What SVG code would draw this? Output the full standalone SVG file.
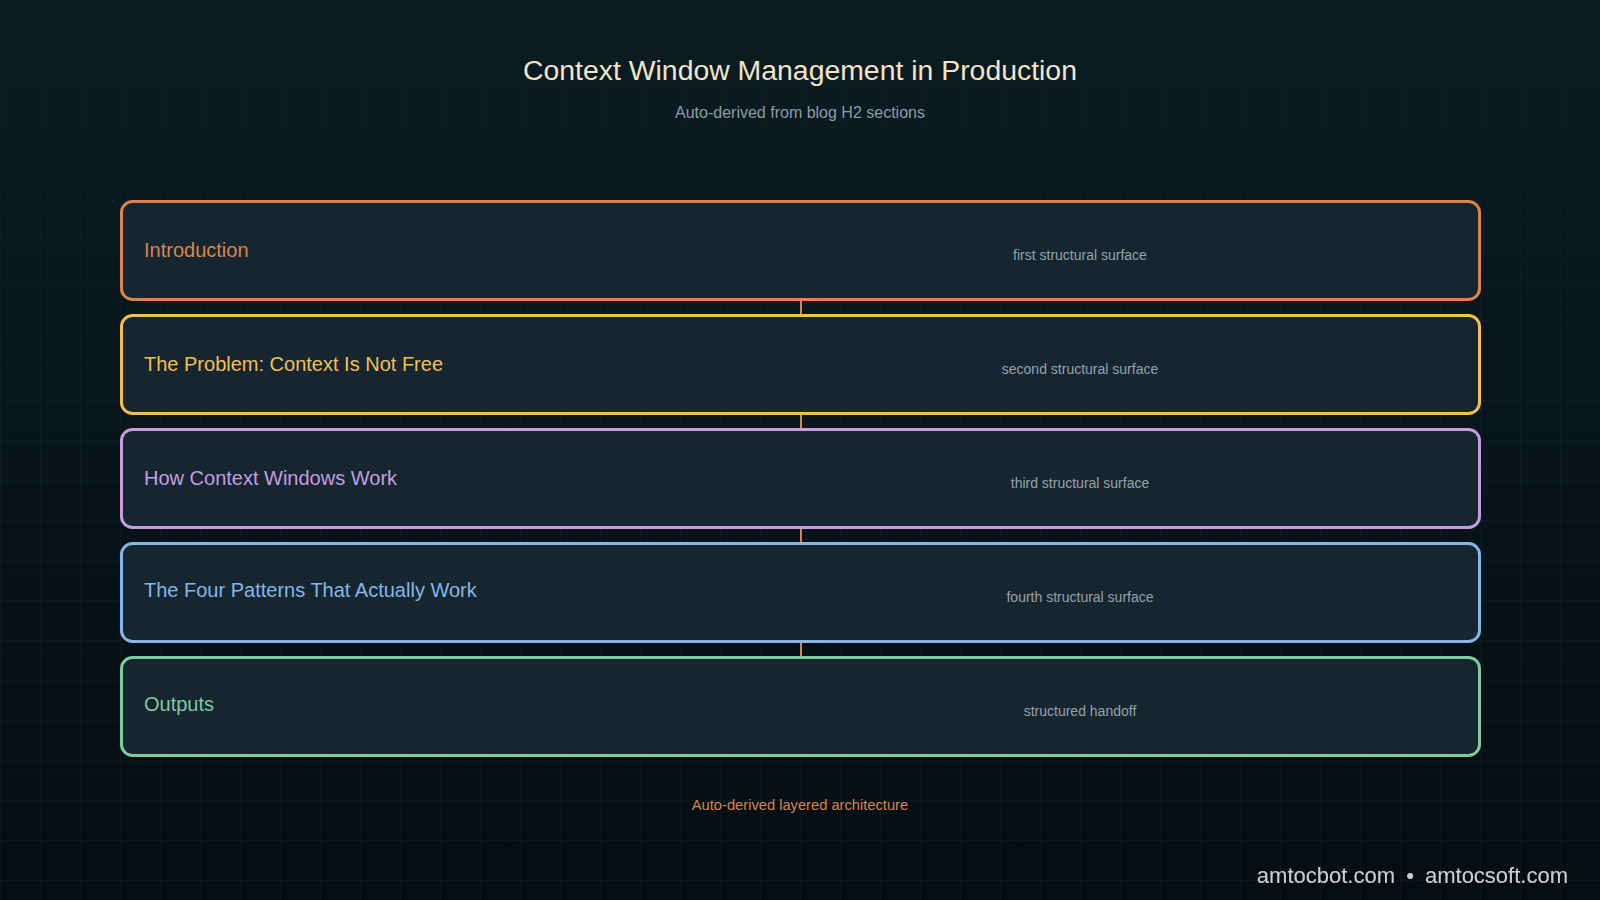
<svg xmlns="http://www.w3.org/2000/svg" width="1600" height="900" viewBox="0 0 1600 900">
<defs>
<linearGradient id="bg" x1="0" y1="0" x2="0" y2="1">
<stop offset="0" stop-color="#0b1c23"/>
<stop offset="1" stop-color="#050d12"/>
</linearGradient>
<pattern id="grid" width="40" height="40" patternUnits="userSpaceOnUse">
<path d="M40 0H0V40" fill="none" stroke="#13252e" stroke-width="1" stroke-opacity="0.7"/>
</pattern>
<filter id="shadow" x="-10%" y="-30%" width="120%" height="160%">
<feDropShadow dx="1" dy="1" stdDeviation="0.8" flood-color="#000" flood-opacity="0.8"/>
</filter>
</defs>
<style>
.box{fill:#152631;stroke-width:3}
.lbl{font-family:"Liberation Sans",Arial,sans-serif;font-size:20px}
.sub{font-family:"Liberation Sans",Arial,sans-serif;font-size:14px;fill:#95a3ab;text-anchor:middle}
.conn{stroke:#d9844a;stroke-width:2}
.foot{font-family:"Liberation Sans",Arial,sans-serif;font-size:22px;fill:#c9cdd0}
</style>
<rect width="1600" height="900" fill="url(#bg)"/>
<rect width="1600" height="900" fill="url(#grid)"/>
<text x="800" y="80" text-anchor="middle" font-family="Liberation Sans,Arial,sans-serif" font-size="28.4" fill="#f1e5c9">Context Window Management in Production</text>
<text x="800" y="118" text-anchor="middle" font-family="Liberation Sans,Arial,sans-serif" font-size="16" fill="#8e9ca4">Auto-derived from blog H2 sections</text>
<g id="connectors">
<line class="conn" x1="801" y1="300" x2="801" y2="314"/>
<line class="conn" x1="801" y1="414" x2="801" y2="428"/>
<line class="conn" x1="801" y1="528" x2="801" y2="542"/>
<line class="conn" x1="801" y1="642" x2="801" y2="656"/>
</g>
<g id="n1">
<rect class="box" x="121.5" y="201.5" width="1358" height="98" rx="11" stroke="#dc844b"/>
<text class="lbl" x="144" y="257" fill="#dc844b">Introduction</text>
<text class="sub" x="1080" y="260">first structural surface</text>
</g>
<g id="n2">
<rect class="box" x="121.5" y="315.5" width="1358" height="98" rx="11" stroke="#f3bf51"/>
<text class="lbl" x="144" y="371" fill="#f3bf51">The Problem: Context Is Not Free</text>
<text class="sub" x="1080" y="374">second structural surface</text>
</g>
<g id="n3">
<rect class="box" x="121.5" y="429.5" width="1358" height="98" rx="11" stroke="#c79ce0"/>
<text class="lbl" x="144" y="485" fill="#c79ce0">How Context Windows Work</text>
<text class="sub" x="1080" y="488">third structural surface</text>
</g>
<g id="n4">
<rect class="box" x="121.5" y="543.5" width="1358" height="98" rx="11" stroke="#86b6e6"/>
<text class="lbl" x="144" y="597" fill="#86b6e6">The Four Patterns That Actually Work</text>
<text class="sub" x="1080" y="602">fourth structural surface</text>
</g>
<g id="n5">
<rect class="box" x="121.5" y="657.5" width="1358" height="98" rx="11" stroke="#7fcaa0"/>
<text class="lbl" x="144" y="711" fill="#7fcaa0">Outputs</text>
<text class="sub" x="1080" y="716">structured handoff</text>
</g>
<text x="800" y="810" text-anchor="middle" font-family="Liberation Sans,Arial,sans-serif" font-size="14.7" fill="#d9844a">Auto-derived layered architecture</text>
<g filter="url(#shadow)">
<text class="foot" x="1395" y="883" text-anchor="end">amtocbot.com</text>
<text class="foot" x="1410" y="883" text-anchor="middle">•</text>
<text class="foot" x="1568" y="883" text-anchor="end">amtocsoft.com</text>
</g>
</svg>
